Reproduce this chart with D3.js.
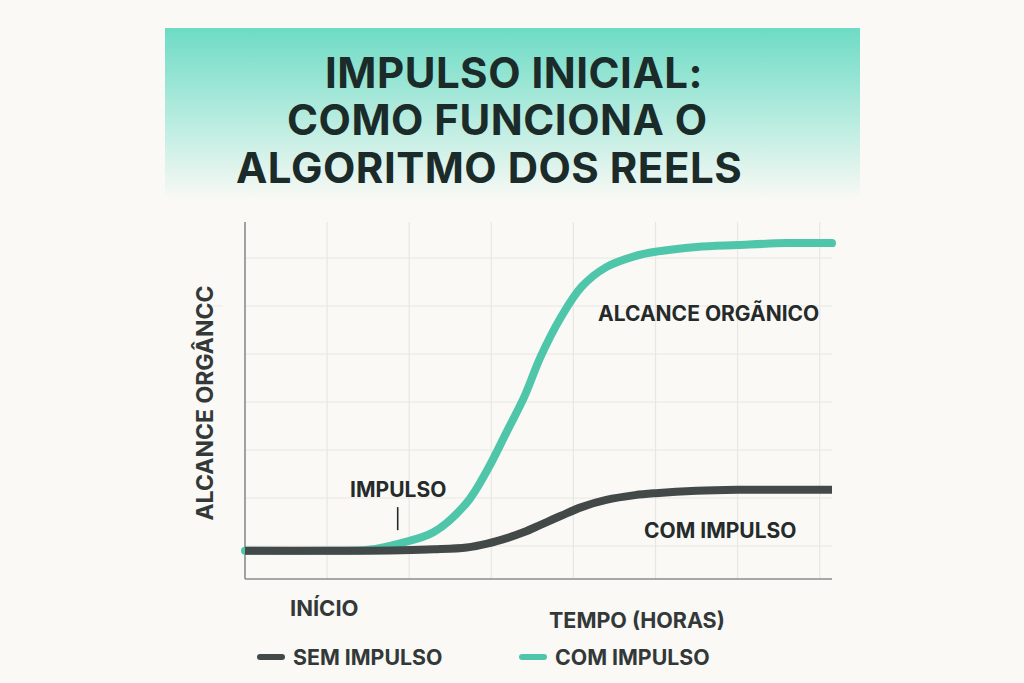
<!DOCTYPE html>
<html>
<head>
<meta charset="utf-8">
<script src="https://cdn.jsdelivr.net/npm/d3@7"></script>
<style>
  html, body { margin: 0; padding: 0; background: #faf9f5; }
  svg { display: block; }
  text { font-family: Inter, Roboto, "Noto Sans", sans-serif; font-weight: 700; }
</style>
</head>
<body>
<div id="chart"></div>
<script>
// data (x in hours, y in reach units)
const hours = [0, 1, 1.5, 1.9, 2.3, 2.7, 2.95, 3.2, 3.4, 3.6, 3.85, 4.1, 4.4, 4.75, 5, 5.5, 6, 6.6, 7.15];
const comImpulso = [9, 9, 9.2, 10.6, 12.9, 19, 25.8, 34.2, 41, 49.4, 57.7, 64, 68.1, 70.4, 71.3, 72.3, 72.7, 73.1, 73.1];
const semImpulso = [9, 9, 9, 9.1, 9.3, 9.7, 10.5, 11.7, 12.9, 14.4, 16.3, 18.1, 19.6, 20.6, 21.0, 21.5, 21.7, 21.7, 21.7];
const gridHours = [1, 2, 3, 4, 5, 6, 7];
const gridReach = [10, 20, 30, 40, 50, 60, 70];

const titleLines = ["IMPULSO INICIAL:", "COMO FUNCIONA O", "ALGORITMO DOS REELS"];
const yLabel = "ALCANCE ORGÂNCC";
const xLabel = "TEMPO (HORAS)";
const startLabel = "INÍCIO";
const legendItems = [
  { label: "SEM IMPULSO", color: "#434948" },
  { label: "COM IMPULSO", color: "#4fc6aa" }
];

const W = 1024, H = 683;
const margin = { top: 222, right: 192, bottom: 104, left: 245 };
const innerW = W - margin.left - margin.right;
const innerH = H - margin.top - margin.bottom;

const svg = d3.select("#chart")
  .append("svg")
  .attr("width", W)
  .attr("height", H);

/* title banner */
const defs = svg.append("defs");
const grad = defs.append("linearGradient")
  .attr("id", "banner")
  .attr("x1", 0).attr("y1", 0).attr("x2", 0).attr("y2", 1);
grad.append("stop").attr("offset", "0%").attr("stop-color", "#6ddbc5");
grad.append("stop").attr("offset", "50%").attr("stop-color", "#b3ebde");
grad.append("stop").attr("offset", "100%").attr("stop-color", "#faf9f5");

svg.append("rect")
  .attr("x", 165).attr("y", 28)
  .attr("width", 695).attr("height", 172)
  .attr("fill", "url(#banner)");

svg.append("g")
  .selectAll("text")
  .data(titleLines)
  .join("text")
  .attr("x", (d, i) => [325, 287, 236][i])
  .attr("y", (d, i) => [88, 135, 183][i])
  .attr("font-size", 42)
  .attr("letter-spacing", 0.5)
  .attr("fill", "#1b2b29")
  .text(d => d);

/* chart */
const g = svg.append("g")
  .attr("transform", `translate(${margin.left},${margin.top})`);

const x = d3.scaleLinear().domain([0, 7.15]).range([0, innerW]);
const y = d3.scaleLinear().domain([3.125, 77.5]).range([innerH, 0]);

// grid
g.append("g")
  .selectAll("line")
  .data(gridHours)
  .join("line")
  .attr("x1", d => x(d)).attr("x2", d => x(d))
  .attr("y1", 0).attr("y2", innerH)
  .attr("stroke", "#e7e7e4")
  .attr("stroke-width", 1.2);

g.append("g")
  .selectAll("line")
  .data(gridReach)
  .join("line")
  .attr("x1", 0).attr("x2", innerW)
  .attr("y1", d => y(d)).attr("y2", d => y(d))
  .attr("stroke", "#e7e7e4")
  .attr("stroke-width", 1.2);

// stray faint tick left of the axis at the top grid line
g.append("line")
  .attr("x1", -37).attr("x2", -22)
  .attr("y1", y(60)).attr("y2", y(60))
  .attr("stroke", "#ecebe8")
  .attr("stroke-width", 1.2);

// axes
g.append("line")
  .attr("x1", 0).attr("x2", 0)
  .attr("y1", 0).attr("y2", innerH)
  .attr("stroke", "#8a8d8c").attr("stroke-width", 1.6);
g.append("line")
  .attr("x1", 0).attr("x2", innerW)
  .attr("y1", innerH).attr("y2", innerH)
  .attr("stroke", "#8a8d8c").attr("stroke-width", 1.6);

// lines
const line = d3.line()
  .x((d, i) => x(hours[i]))
  .y(d => y(d))
  .curve(d3.curveCatmullRom.alpha(0.5));

g.append("path")
  .datum(comImpulso)
  .attr("d", line)
  .attr("fill", "none")
  .attr("stroke", legendItems[1].color)
  .attr("stroke-width", 8)
  .attr("stroke-linecap", "round");

g.append("path")
  .datum(semImpulso)
  .attr("d", line)
  .attr("fill", "none")
  .attr("stroke", legendItems[0].color)
  .attr("stroke-width", 8)
  .attr("stroke-linecap", "butt");

// annotations
const labelColor = "#252a2a";
g.append("text")
  .attr("x", x(4.3)).attr("y", y(56.9))
  .attr("font-size", 21).attr("fill", labelColor)
  .text("ALCANCE ORGÃNICO");

g.append("text")
  .attr("x", x(4.86)).attr("y", y(11.7))
  .attr("font-size", 21).attr("fill", labelColor)
  .text("COM IMPULSO");

g.append("text")
  .attr("x", x(1.28)).attr("y", y(20.2))
  .attr("font-size", 21).attr("fill", labelColor)
  .text("IMPULSO");

g.append("line")
  .attr("x1", x(1.86)).attr("x2", x(1.86))
  .attr("y1", y(18.1)).attr("y2", y(13.3))
  .attr("stroke", labelColor).attr("stroke-width", 1.6);

// axis labels
svg.append("text")
  .attr("transform", "translate(213,403) rotate(-90)")
  .attr("text-anchor", "middle")
  .attr("font-size", 23)
  .attr("fill", "#333838")
  .text(yLabel);

svg.append("text")
  .attr("x", 290).attr("y", 616)
  .attr("font-size", 22)
  .attr("fill", "#333838")
  .text(startLabel);

svg.append("text")
  .attr("x", 549).attr("y", 628)
  .attr("font-size", 21.5)
  .attr("fill", "#333838")
  .text(xLabel);

// legend
const legend = svg.append("g")
  .selectAll("g")
  .data(legendItems)
  .join("g")
  .attr("transform", (d, i) => `translate(${[258, 520][i]},657)`);

legend.append("line")
  .attr("x1", 2).attr("x2", 24)
  .attr("stroke", d => d.color)
  .attr("stroke-width", 6)
  .attr("stroke-linecap", "round");

legend.append("text")
  .attr("x", 35).attr("y", 8)
  .attr("font-size", 21.3)
  .attr("fill", "#333838")
  .text(d => d.label);
</script>
</body>
</html>
